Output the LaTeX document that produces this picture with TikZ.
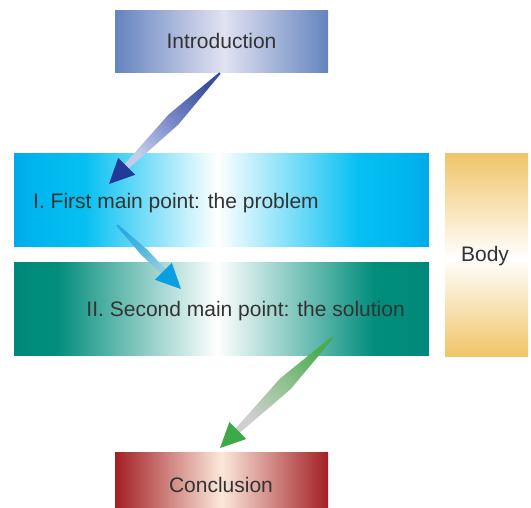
\documentclass[tikz,border=0pt]{standalone}
\usepackage{fontspec}
\setmainfont{Liberation Sans}
\usetikzlibrary{calc}
\definecolor{textgray}{HTML}{333333}
\definecolor{introedge}{HTML}{6484BE}
\definecolor{introcenter}{HTML}{E2E2F2}
\definecolor{cyanedge}{HTML}{00A9E9}
\definecolor{cyanmid}{HTML}{00B5EE}
\definecolor{cyanbright}{HTML}{05C0F2}
\definecolor{tealedge}{HTML}{00897A}
\definecolor{tealmid}{HTML}{008D7B}
\definecolor{goldedge}{HTML}{F0C468}
\definecolor{concledge}{HTML}{A21F24}
\definecolor{conclcenter}{HTML}{FBE8DA}
\definecolor{aonetailc}{HTML}{3B4FA0}
\definecolor{aonemidc}{HTML}{7888C6}
\definecolor{aoneendc}{HTML}{C2CDEA}
\definecolor{aoneheadc}{HTML}{22399A}
\definecolor{atwotailc}{HTML}{2AA9E0}
\definecolor{atwomidc}{HTML}{50B6DF}
\definecolor{atwoendc}{HTML}{8CCBE0}
\definecolor{atwoheadc}{HTML}{0C9FE0}
\definecolor{athreetailc}{HTML}{4AAB50}
\definecolor{athreemidc}{HTML}{92C292}
\definecolor{athreeendc}{HTML}{CFCFCF}
\definecolor{athreeheadc}{HTML}{3DAA49}
\pgfdeclarehorizontalshading{introsh}{100bp}{color(0bp)=(introedge); color(25bp)=(introedge); color(50.5bp)=(introcenter); color(75bp)=(introedge); color(100bp)=(introedge)}
\pgfdeclarehorizontalshading{onesh}{100bp}{color(0bp)=(cyanedge); color(25bp)=(cyanedge); color(27.5bp)=(cyanmid); color(33.5bp)=(cyanbright); color(49.5bp)=(white); color(66.5bp)=(cyanbright); color(72.5bp)=(cyanmid); color(75bp)=(cyanedge); color(100bp)=(cyanedge)}
\pgfdeclarehorizontalshading{twosh}{100bp}{color(0bp)=(tealedge); color(25bp)=(tealedge); color(30bp)=(tealmid); color(49.5bp)=(white); color(68.5bp)=(tealmid); color(75bp)=(tealedge); color(100bp)=(tealedge)}
\pgfdeclareverticalshading{bodysh}{100bp}{color(0bp)=(goldedge); color(25bp)=(goldedge); color(49bp)=(white); color(75bp)=(goldedge); color(100bp)=(goldedge)}
\pgfdeclarehorizontalshading{conclsh}{100bp}{color(0bp)=(concledge); color(25bp)=(concledge); color(50bp)=(conclcenter); color(75bp)=(concledge); color(100bp)=(concledge)}
% #1 tail, #2 tip, #3 shaft shading, #4 head colour, #5 prefix, #6 bulge half width, #7 bulge fraction
\newcommand{\spindlearrow}[7]{%
  \coordinate (#5base) at ($(#2)!25pt!(#1)$);
  \coordinate (#5mid) at ($(#1)!#7!(#5base)$);
  \shade[#3] ($(#1)!1pt!90:(#2)$) -- ($(#5mid)!#6!90:(#2)$) -- ($(#5base)!3pt!90:(#2)$)
    -- ($(#5base)!3pt!-90:(#2)$) -- ($(#5mid)!#6!-90:(#2)$) -- ($(#1)!1pt!-90:(#2)$) -- cycle;
  \fill[#4] (#2) -- ($(#5base)!12pt!90:(#2)$) -- ($(#5base)!12pt!-90:(#2)$) -- cycle;
}
\tikzset{
  box/.style={rectangle, inner sep=0pt, shade, draw=none},
  lbl/.style={text=textgray, font=\fontsize{21}{25}\selectfont, inner sep=0pt}
}
\begin{document}
\begin{tikzpicture}[x=1pt, y=-1pt]
\useasboundingbox (0,0) rectangle (531,507);
% boxes
\node[box, shading=introsh, minimum width=213pt, minimum height=62pt, lbl] (intro) at (221.5,41) {Introduction};
\node[box, shading=onesh, minimum width=415pt, minimum height=93pt] (one) at (221.5,199.5) {};
\node[lbl, anchor=base west] (onetext) at (33,208) {I. First main point: the problem};
\node[box, shading=twosh, minimum width=415pt, minimum height=93pt] (two) at (221.5,308.5) {};
\node[lbl, anchor=base east] (twotext) at (405,316) {II. Second main point: the solution};
\node[box, shading=bodysh, minimum width=83pt, minimum height=203pt] (body) at (486.5,254.5) {};
\node[lbl, anchor=base] (bodytext) at (485,261) {Body};
\node[box, shading=conclsh, minimum width=213pt, minimum height=55pt] (concl) at (221.5,479.5) {};
\node[lbl, anchor=base] (concltext) at (221,492) {Conclusion};
% arrows
\coordinate (aonetail) at (220,73);
\coordinate (aonetip) at (109,184);
\coordinate (atwotail) at (117,225);
\coordinate (atwotip) at (181,289);
\coordinate (athreetail) at (333,337);
\coordinate (athreetip) at (220,448);
\spindlearrow{aonetail}{aonetip}{top color=aonetailc, bottom color=aoneendc, middle color=aonemidc, shading angle=-45}{aoneheadc}{aone}{7pt}{0.5}
\spindlearrow{atwotail}{atwotip}{top color=atwotailc, bottom color=atwoendc, middle color=atwomidc, shading angle=45}{atwoheadc}{atwo}{4pt}{0.6}
\spindlearrow{athreetail}{athreetip}{top color=athreetailc, bottom color=athreeendc, middle color=athreemidc, shading angle=-45}{athreeheadc}{athree}{7.5pt}{0.5}
\end{tikzpicture}
\end{document}
